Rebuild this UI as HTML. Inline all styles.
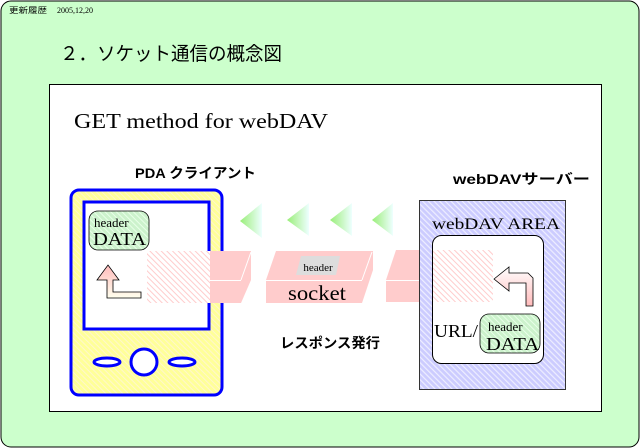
<!DOCTYPE html>
<html><head><meta charset="utf-8"><style>
body{margin:0;width:640px;height:448px;overflow:hidden;background:#fff}
svg{display:block}
.s{font-family:"Liberation Serif","Noto Serif CJK SC",serif}
.j{font-family:"Liberation Sans","Noto Sans CJK JP",sans-serif}
</style></head><body>
<svg width="640" height="448" viewBox="0 0 640 448">
<defs>
<pattern id="hy" width="4" height="4" patternUnits="userSpaceOnUse" patternTransform="rotate(-45)"><rect width="4" height="4" fill="#ffff99"/><rect width="1" height="4" fill="#fff7cc"/></pattern>
<pattern id="hb" width="4" height="4" patternUnits="userSpaceOnUse" patternTransform="rotate(-45)"><rect width="4" height="4" fill="#ccccff"/><rect width="1.2" height="4" fill="#eeeeff"/></pattern>
<pattern id="hp" width="4" height="4" patternUnits="userSpaceOnUse" patternTransform="rotate(-45)"><rect width="4" height="4" fill="#fff"/><rect width="1" height="4" fill="#ffcccc"/></pattern>
<pattern id="hg" width="4" height="4" patternUnits="userSpaceOnUse" patternTransform="rotate(-45)"><rect width="4" height="4" fill="#ccf2cc"/><rect width="1" height="4" fill="#e8ffe8"/></pattern>
<linearGradient id="tg" x1="0" x2="1"><stop offset="0" stop-color="#99ee77"/><stop offset="1" stop-color="#eeffff"/></linearGradient>
<linearGradient id="ag" x1="0" y1="0" x2="0" y2="1"><stop offset="0" stop-color="#ffbbbb"/><stop offset="1" stop-color="#ffffee"/></linearGradient>
<linearGradient id="ag2" x1="0" y1="0" x2="0" y2="1"><stop offset="0" stop-color="#ffffff"/><stop offset="1" stop-color="#ffbbbb"/></linearGradient>
</defs>
<rect x="1" y="1" width="638" height="446" rx="10" fill="#ccffcc" stroke="#000"/>
<text x="9" y="13" class="j" font-size="8" textLength="38" lengthAdjust="spacingAndGlyphs">更新履歴</text>
<text x="57" y="13" class="s" font-size="8">2005,12,20</text>
<text x="60" y="60" class="j" font-size="19" textLength="222" lengthAdjust="spacingAndGlyphs">２．ソケット通信の概念図</text>
<rect x="49.5" y="84.5" width="552" height="327" fill="#fff" stroke="#000"/>
<text x="74" y="128" class="s" font-size="21" textLength="254" lengthAdjust="spacingAndGlyphs">GET method for webDAV</text>
<text x="135" y="178" class="j" font-size="14" font-weight="bold" textLength="121" lengthAdjust="spacingAndGlyphs">PDA クライアント</text>
<text x="453" y="184" class="j" font-size="14" font-weight="bold" textLength="137" lengthAdjust="spacingAndGlyphs">webDAVサーバー</text>
<!-- PDA -->
<rect x="71" y="190" width="151" height="205" rx="8" fill="url(#hy)" stroke="#0000ff" stroke-width="3"/>
<rect x="84" y="202" width="125" height="127" fill="#fff" stroke="#0000ff" stroke-width="3"/>
<rect x="89" y="211" width="60" height="39" rx="9" fill="url(#hg)" stroke="#000" stroke-width="0.8"/>
<text x="94" y="227" class="s" font-size="13">header</text>
<text x="93" y="245" class="s" font-size="18" textLength="53" lengthAdjust="spacingAndGlyphs">DATA</text>
<path d="M97,280 L108,265 L119,280 L113,280 L113,292 L141,292 L141,298 L107,298 L107,280 Z" fill="url(#ag)" stroke="#000" stroke-width="0.8"/>
<ellipse cx="107" cy="362" rx="13" ry="4" fill="#fff" stroke="#0000ff" stroke-width="3"/>
<ellipse cx="144" cy="362" rx="13" ry="13" fill="#fff" stroke="#0000ff" stroke-width="3"/>
<ellipse cx="182" cy="362" rx="13" ry="4" fill="#fff" stroke="#0000ff" stroke-width="3"/>
<rect x="147" y="251" width="63" height="52" fill="url(#hp)"/>
<!-- pipes -->
<path d="M210,251 L251,251 L251,280 L241,303 L210,303 Z" fill="#ffcccc"/>
<line x1="210" y1="280.5" x2="241" y2="280.5" stroke="#fff"/>
<line x1="241" y1="280" x2="251" y2="252" stroke="#fff"/>
<path d="M276,251 L373,251 L373,270 L362,303 L266,303 L266,280 Z" fill="#ffcccc"/>
<line x1="266" y1="280.5" x2="362" y2="280.5" stroke="#fff"/>
<line x1="362" y1="280" x2="372" y2="252" stroke="#fff"/>
<path d="M301,256 L340,256 L336,275 L296,275 Z" fill="#dddddd"/>
<text x="318" y="271" class="s" font-size="11" text-anchor="middle">header</text>
<text x="288" y="300" class="s" font-size="21" textLength="58" lengthAdjust="spacingAndGlyphs">socket</text>
<path d="M396,250 L432,250 L432,302 L386,302 L386,280 Z" fill="#ffcccc"/>
<line x1="386" y1="280.5" x2="432" y2="280.5" stroke="#fff"/>
<!-- triangles -->
<path d="M240,221 L262,203 L262,238 Z" fill="url(#tg)"/>
<path d="M287,220 L309,203 L309,236 Z" fill="url(#tg)"/>
<path d="M330,220 L352,203 L352,236 Z" fill="url(#tg)"/>
<path d="M372,220 L393,203 L393,236 Z" fill="url(#tg)"/>
<!-- server -->
<rect x="419.5" y="200.5" width="146" height="189" fill="url(#hb)" stroke="#333"/>
<text x="432" y="229" class="s" font-size="16" textLength="128" lengthAdjust="spacingAndGlyphs">webDAV AREA</text>
<rect x="432.5" y="235.5" width="111" height="128" rx="9" fill="#fff" stroke="#000"/>
<rect x="433" y="250" width="60" height="52" fill="url(#hp)"/>
<path d="M494,279 L509,267 L509,273 L528,273 L533,278 L533,306 L526,306 L526,283 L509,283 L509,291 Z" fill="url(#ag2)" stroke="#000" stroke-width="0.8"/>
<text x="434" y="337" class="s" font-size="18" textLength="44" lengthAdjust="spacingAndGlyphs">URL/</text>
<rect x="480" y="314" width="60" height="39" rx="9" fill="url(#hg)" stroke="#000" stroke-width="0.8"/>
<text x="488" y="331" class="s" font-size="13">header</text>
<text x="486" y="350" class="s" font-size="18" textLength="53" lengthAdjust="spacingAndGlyphs">DATA</text>
<text x="280" y="348" class="j" font-size="14" font-weight="bold" textLength="100" lengthAdjust="spacingAndGlyphs">レスポンス発行</text>
</svg>
</body></html>
